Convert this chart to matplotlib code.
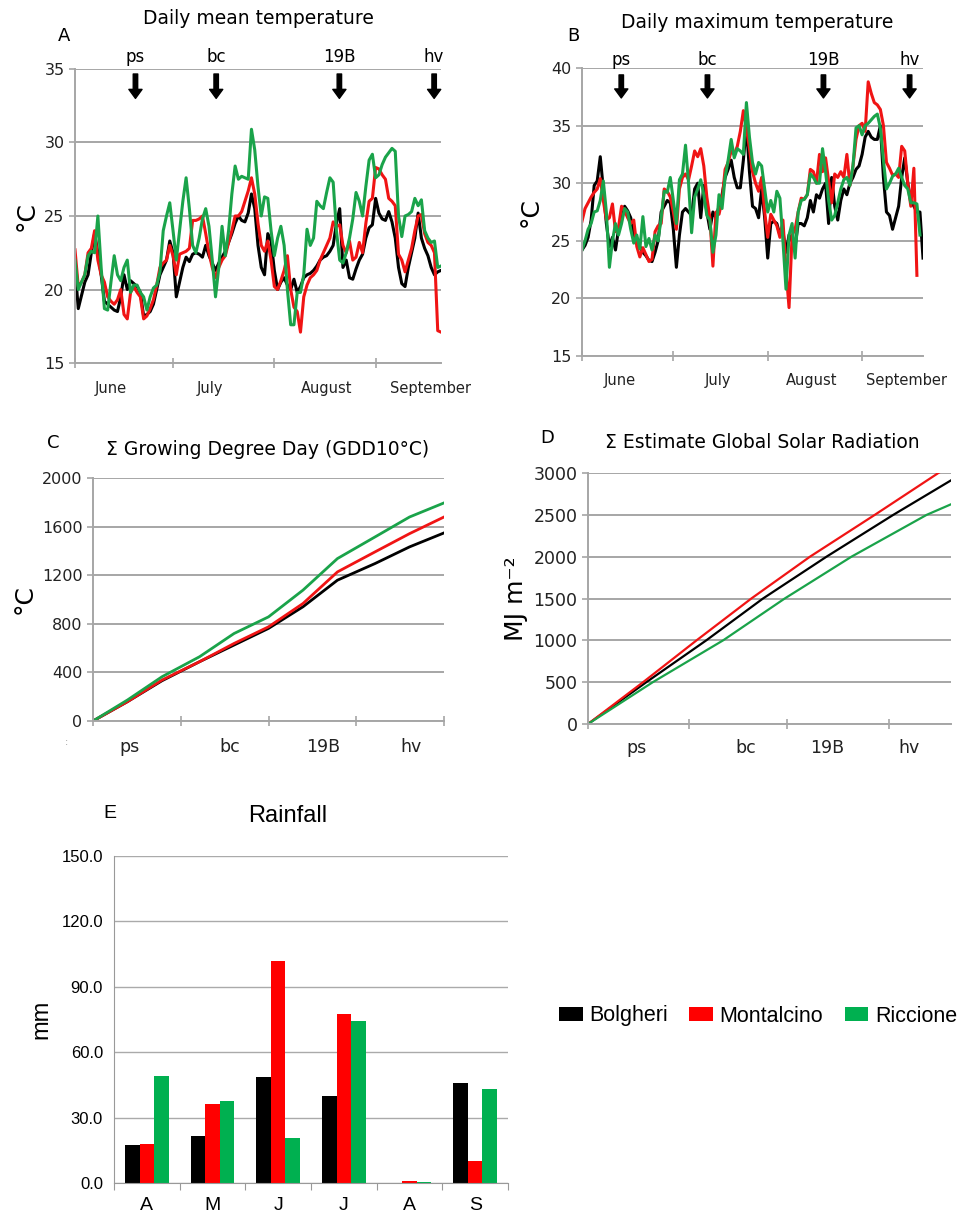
import matplotlib
matplotlib.use('Agg')
import matplotlib.pyplot as plt
from matplotlib.patches import Patch
import numpy as np

# ---- data -------------------------------------------------------------
sites = ['Bolgheri', 'Montalcino', 'Riccione']

# A: daily mean temperature, one value per day from 1 June
mean_bolgheri = [21.5, 18.7, 19.6, 20.5, 21, 22.5, 23.8, 22.5, 21, 19.2, 19, 18.8, 18.6, 18.5, 19.5,
                 21, 20, 20.6, 20.4, 20.2, 19.8, 18.2, 18.3, 18.5, 19, 20, 21, 21.5, 22, 23.3,
                 22.5, 19.5, 20.5, 21.5, 22.2, 21.9, 22.4, 22.5, 22.4, 22.2, 23, 22.3, 21.8, 21.3, 21.8,
                 22.2, 22.6, 23.2, 23.8, 24.5, 25, 24.7, 24.6, 25.2, 26.5, 25.5, 23, 21.5, 21, 23.8,
                 23.3, 21.3, 20, 20.5, 20.8, 20.3, 20, 20.7, 19.8, 20.2, 20.8, 21, 21.1, 21.3, 21.6,
                 22, 22.2, 22.3, 22.6, 23, 24.5, 25.5, 21.5, 22, 20.8, 20.7, 21.4, 22, 22.4, 23.5,
                 24.2, 24.4, 26.2, 25.2, 24.8, 24.7, 25.3, 24.6, 23.5, 21.5, 20.4, 20.2, 21.5, 22.5, 23.5,
                 25.2, 23.5, 22.8, 22.3, 21.5, 21, 21.2, 21.3]
mean_montalcino = [22.7, 20.2, 20.5, 21, 22.5, 22.8, 24, 22, 21, 20.5, 19.5, 19.2, 19, 19.3, 20,
                   18.3, 18, 19.8, 20.2, 19.8, 19.5, 18, 18.2, 18.7, 19.3, 20.3, 21.5, 21.8, 22, 23,
                   22.3, 21, 22.4, 22.5, 22.6, 22.8, 24.7, 24.7, 24.8, 25, 23.8, 22.5, 21.5, 20.8, 21.5,
                   22, 22.3, 23.2, 24, 25, 25, 25.3, 26, 26.7, 27.6, 26.5, 24.5, 23, 22.6, 23.3,
                   22, 20.2, 20, 20.6, 21.3, 22.3, 20, 18.8, 18.5, 17.1, 19.5, 20.3, 20.8, 21, 21.3,
                   22, 22.5, 23, 23.5, 24.6, 24.3, 24.4, 23, 22.5, 23.3, 22, 22.2, 23.2, 22.5, 24.5,
                   26, 26.2, 28.3, 28.2, 27.8, 27.5, 26.2, 26, 25.7, 22.4, 22, 21.2, 22, 22.8, 24,
                   25, 25.1, 23.8, 23.2, 23, 22.5, 17.2, 17.1]
mean_riccione = [22, 20, 20.5, 21, 22.3, 22.6, 22.5, 25, 21.5, 18.7, 18.6, 20.5, 22.3, 21, 20.6,
                 21.5, 22, 19.8, 20.3, 20.3, 19.8, 19.5, 18.6, 19.5, 20.1, 20.3, 21.2, 24, 25, 25.9,
                 24, 22, 24, 26, 27.6, 25.5, 23, 22.5, 23.5, 24.8, 25.5, 24.3, 22, 19.5, 21.5,
                 24.3, 22.3, 24, 26.5, 28.4, 27.5, 27.7, 27.6, 27.5, 30.9, 29.5, 27, 25, 26.3, 26.2,
                 24, 22.3, 23.5, 24.3, 23, 20, 17.6, 17.6, 19.8, 19.8, 21, 24.1, 23, 23.5, 26,
                 25.7, 25.5, 26.6, 27.6, 27.3, 24, 22, 21.8, 22.5, 23.5, 24.8, 26.6, 26, 25, 27,
                 28.8, 29.2, 27.6, 27.8, 28.5, 29, 29.3, 29.6, 29.4, 25, 23.6, 25, 25.1, 25.3, 26.2,
                 25.7, 26.1, 24, 23.5, 23.2, 23.3, 21.5, 21.6]

# B: daily maximum temperature
max_bolgheri = [24.2, 24.6, 25.3, 26.8, 29.8, 30.2, 32.3, 29.5, 26.5, 24.5, 25.3, 24.2, 26, 27.2, 28,
                27.6, 27, 25.5, 24.8, 24.5, 24, 23.7, 23.3, 23.2, 24, 25, 27.5, 28, 28.5, 28.3,
                26, 22.7, 25.5, 27.5, 27.8, 27.5, 27.2, 29.5, 30, 27, 29.8, 27.5, 26, 27.5, 27,
                28, 29, 30.5, 31.2, 32, 30.5, 29.6, 29.6, 32, 35, 31, 28, 27.8, 27, 29.5,
                27, 23.5, 26.5, 26.7, 26.5, 25.5, 25.8, 24, 25.5, 25, 24.5, 26.5, 26.5, 26.3, 27,
                28.5, 27.5, 29, 28.7, 29.5, 30, 26.5, 30.5, 28, 26.8, 28.5, 29.5, 29, 30, 30.5,
                31.2, 31.5, 32.5, 34, 34.5, 34, 33.8, 33.8, 35, 30.5, 27.5, 27.2, 26, 27, 28,
                30.5, 32.2, 30, 28.5, 28, 27.5, 27.5, 23.5]
max_montalcino = [26.7, 27.8, 28.3, 28.8, 29.2, 29.5, 30.4, 28.5, 26.8, 27, 28.2, 25.8, 26.2, 28, 27.6,
                  27, 26.5, 26.8, 24.5, 23.6, 24.4, 23.8, 23.2, 23.4, 25.8, 26.3, 26.5, 29.5, 29.3, 28.8,
                  27.5, 26, 29.5, 30.5, 30.8, 30.3, 31.5, 32.8, 32.3, 33, 31.5, 28.8, 27, 22.8, 27.5,
                  27.3, 28.5, 31.2, 31.8, 32.8, 32.5, 33.2, 34.5, 36.3, 34.8, 33, 31, 30, 29.3, 30.5,
                  27.5, 25.3, 27.3, 26.8, 26.3, 25.3, 26.8, 22.5, 19.2, 25.5, 26, 27.5, 28.7, 28.6, 29,
                  31.2, 31, 30, 32.5, 31, 32.2, 30.2, 28.3, 30.8, 30.5, 31, 30.5, 32.5, 29.8, 31.5,
                  33.8, 35, 35.2, 34.5, 38.8, 37.8, 37, 36.8, 36.4, 35, 31.8, 31.3, 30.7, 30.8, 30.5,
                  33.2, 32.8, 30, 28, 31.3, 22]
max_riccione = [24.2, 25, 26, 26.5, 27.5, 27.6, 28.5, 30.2, 27.5, 22.7, 25, 26.5, 25.5, 26.5, 27.8,
                27.5, 26, 24.8, 25.5, 24.3, 27.1, 24.5, 25.2, 24.2, 25.5, 25, 27, 29.3, 29.2, 30.5,
                28.5, 26.5, 30.3, 30.8, 33.3, 30, 25.7, 28.8, 29.5, 30.3, 29, 27.2, 26.8, 24, 25.5,
                29, 27.8, 30.5, 32, 33.8, 32.2, 33, 32.8, 32.5, 37, 34, 31.8, 30.8, 31.8, 31.5,
                29.5, 27.5, 28.5, 27.5, 29.3, 28.7, 25, 20.8, 25.5, 26.5, 23.5, 27.5, 28.5, 28.6, 29,
                30.8, 30.5, 30, 30, 33, 31, 28.5, 26.8, 27.2, 28.3, 29.5, 30.3, 30.5, 29.8, 31.5,
                34.8, 35, 34.2, 35, 35.2, 35.5, 35.8, 36, 34.8, 32, 29.5, 30, 30.6, 30.8, 31.3,
                30.5, 29.8, 29.5, 28.3, 28.3, 28.2, 25.5]

months = ['June', 'July', 'August', 'September']
month_start = [0, 30, 61, 92]
stages = ['ps', 'bc', '19B', 'hv']
stage_day_a = [18.5, 43.2, 80.9, 109.9]
stage_day_b = [12.9, 41.2, 79.3, 107.6]

# C: cumulative GDD (base 10 C)
gdd_day = [0, 11, 22, 34, 45, 56, 67, 78, 90, 101, 112]
gdd_bolgheri = [0, 159, 331, 488, 625, 762, 940, 1159, 1296, 1433, 1548]
gdd_montalcino = [0, 159, 337, 488, 638, 775, 967, 1227, 1392, 1542, 1679]
gdd_riccione = [0, 173, 364, 529, 720, 857, 1077, 1337, 1515, 1679, 1795]

# D: cumulative estimated global solar radiation (MJ m-2)
rad_day_bolgheri = [0, 18, 36.5, 54, 73.6, 94.2, 112]
rad_bolgheri = [0, 500, 1000, 1500, 2000, 2500, 2912]
rad_day_montalcino = [0, 17, 33.5, 50.4, 68.5, 88.5, 108.1, 112]
rad_montalcino = [0, 500, 1000, 1500, 2000, 2500, 3000, 3095]
rad_day_riccione = [0, 20, 41.7, 60.7, 81.3, 104.5, 112]
rad_riccione = [0, 500, 1000, 1500, 2000, 2500, 2626]

# E: monthly rainfall (mm)
rain_months = ['A', 'M', 'J', 'J', 'A', 'S']
rain_bolgheri = [17.6, 21.7, 48.6, 39.7, 0.2, 45.7]
rain_montalcino = [18.0, 36.4, 102.0, 77.3, 1.1, 9.9]
rain_riccione = [49.3, 37.4, 20.8, 74.1, 0.5, 42.9]

line_colors = ['black', '#f01414', '#1aa34a']
bar_colors = ['black', '#ff0000', '#00b050']
grid_c = '#a6a6a6'

# ---- figure -----------------------------------------------------------
W, H = 961, 1216
fig = plt.figure(figsize=(W / 100, H / 100), dpi=100)


def rect(x0, y0, x1, y1):
    return [x0 / W, 1 - y1 / H, (x1 - x0) / W, (y1 - y0) / H]


def ftext(x, y, s, **kw):
    fig.text(x / W, 1 - y / H, s, ha=kw.pop('ha', 'center'), va=kw.pop('va', 'center'), **kw)


def style(ax, ylim, yticks, tsize):
    ax.set_ylim(*ylim)
    ax.set_yticks(yticks)
    ax.set_xlim(0, 112)
    for s in ['top', 'right']:
        ax.spines[s].set_visible(False)
    for s in ['left', 'bottom']:
        ax.spines[s].set_color(grid_c)
        ax.spines[s].set_linewidth(1.4)
    ax.grid(True, axis='y', color=grid_c, linewidth=1.4)
    ax.set_axisbelow(True)
    ax.tick_params(axis='y', colors=grid_c, length=4, width=1.2, labelcolor='#222222', labelsize=tsize)
    ax.tick_params(axis='x', which='major', colors=grid_c, direction='inout', length=7, width=1.2,
                   labelbottom=False)
    ax.tick_params(axis='x', which='minor', length=0, labelcolor='#222222')


def arrows(ax, days, lab_y, top, bottom):
    for lab, d in zip(stages, days):
        ax.text(d, lab_y, lab, transform=ax.get_xaxis_transform(), ha='center', va='center', fontsize=12)
        ax.annotate('', xy=(d, bottom), xytext=(d, top), xycoords=('data', 'axes fraction'),
                    textcoords=('data', 'axes fraction'),
                    arrowprops=dict(facecolor='black', edgecolor='black', width=3.2,
                                    headwidth=9.5, headlength=6.5, shrink=0))


# A
axA = fig.add_axes(rect(75, 69, 441, 363))
for vals, c in zip([mean_bolgheri, mean_montalcino, mean_riccione], line_colors):
    axA.plot(np.arange(len(vals)), vals, color=c, lw=2.2)
style(axA, (15, 35), range(15, 36, 5), 11.5)
axA.set_xticks(month_start)
axA.set_xticks([11, 41.3, 77, 108.7], minor=True)
axA.set_xticklabels(months, minor=True, fontsize=10.5)
axA.tick_params(axis='x', which='minor', pad=13)
axA.set_ylabel('°C', fontsize=18, labelpad=4)
arrows(axA, stage_day_a, 1.041, 0.983, 0.90)
ftext(258, 19, 'Daily mean temperature', fontsize=13.5)
ftext(64, 36, 'A', fontsize=13)

# B
axB = fig.add_axes(rect(582, 68, 923, 356))
for vals, c in zip([max_bolgheri, max_montalcino, max_riccione], line_colors):
    axB.plot(np.arange(len(vals)), vals, color=c, lw=2.2)
style(axB, (15, 40), range(15, 41, 5), 11.5)
axB.set_xticks(month_start)
axB.set_xticks([12.4, 44.7, 75.4, 106.7], minor=True)
axB.set_xticklabels(months, minor=True, fontsize=10.5)
axB.tick_params(axis='x', which='minor', pad=12)
axB.set_ylabel('°C', fontsize=18, labelpad=6)
arrows(axB, stage_day_b, 1.028, 0.976, 0.896)
ftext(757, 23, 'Daily maximum temperature', fontsize=13.5)
ftext(573, 36, 'B', fontsize=13)

# C
axC = fig.add_axes(rect(93, 478, 444, 721))
for vals, c in zip([gdd_bolgheri, gdd_montalcino, gdd_riccione], line_colors):
    axC.plot(gdd_day, vals, color=c, lw=2.0)
style(axC, (0, 2000), range(0, 2001, 400), 11.5)
axC.set_xticks([0, 28, 56, 84, 112])
axC.set_xticks([11.7, 43.6, 73.3, 101.4], minor=True)
axC.set_xticklabels(stages, minor=True, fontsize=12.5)
axC.tick_params(axis='x', which='minor', pad=12)
axC.set_ylabel('°C', fontsize=18, labelpad=4)
ftext(268, 449, 'Σ Growing Degree Day (GDD10°C)', fontsize=13.5)
ftext(53, 443, 'C', fontsize=13)
ftext(67, 742, ':', fontsize=7, color='#999999')

# D
axD = fig.add_axes(rect(588, 473, 951, 724))
for dd, vals, c in zip([rad_day_bolgheri, rad_day_montalcino, rad_day_riccione],
                       [rad_bolgheri, rad_montalcino, rad_riccione], line_colors):
    axD.plot(dd, vals, color=c, lw=1.6)
style(axD, (0, 3000), range(0, 3001, 500), 12.5)
axD.set_xticks([0, 31.2, 61.5, 93])
axD.set_xticks([15, 48.8, 73.9, 99], minor=True)
axD.set_xticklabels(stages, minor=True, fontsize=12.5)
axD.tick_params(axis='x', which='minor', pad=11)
axD.set_ylabel('MJ m⁻²', fontsize=18, labelpad=4)
ftext(762, 443, 'Σ Estimate Global Solar Radiation', fontsize=13.5)
ftext(547, 438, 'D', fontsize=13)

# E
hel = 'Liberation Sans'
axE = fig.add_axes(rect(114, 856, 508, 1183))
x = np.arange(len(rain_months))
bw = 0.222
for i, (vals, c) in enumerate(zip([rain_bolgheri, rain_montalcino, rain_riccione], bar_colors)):
    axE.bar(x + (i - 1) * bw, vals, width=bw, color=c, label=sites[i])
axE.set_xlim(-0.5, 5.5)
axE.set_ylim(0, 150)
axE.set_yticks(np.arange(0, 151, 30))
axE.set_yticklabels(['%.1f' % v for v in np.arange(0, 151, 30)], fontfamily=hel, fontsize=12)
for s in ['top', 'right']:
    axE.spines[s].set_visible(False)
for s in ['left', 'bottom']:
    axE.spines[s].set_color('#999999')
axE.grid(True, axis='y', color='#aaaaaa', linewidth=1.0)
axE.set_axisbelow(True)
axE.tick_params(axis='y', length=0, pad=8)
axE.set_xticks(np.arange(-0.5, 6, 1))
axE.tick_params(axis='x', which='major', colors='#999999', length=5, labelbottom=False)
axE.set_xticks(x, minor=True)
axE.set_xticklabels(rain_months, minor=True, fontfamily=hel, fontsize=14)
axE.tick_params(axis='x', which='minor', length=0, pad=10)
axE.set_ylabel('mm', fontfamily=hel, fontsize=17, labelpad=6)
ftext(288, 816, 'Rainfall', fontfamily=hel, fontsize=17)
ftext(110, 814, 'E', fontfamily=hel, fontsize=14)

handles = [Patch(facecolor=c) for c in bar_colors]
fig.legend(handles, sites, loc='center', bbox_to_anchor=(758 / W, 1 - 1016 / H), ncol=3,
           frameon=False, prop={'family': hel, 'size': 15.5}, handlelength=1.1, handleheight=0.58,
           handletextpad=0.3, columnspacing=1.0)

fig.savefig('out.png', dpi=100)
